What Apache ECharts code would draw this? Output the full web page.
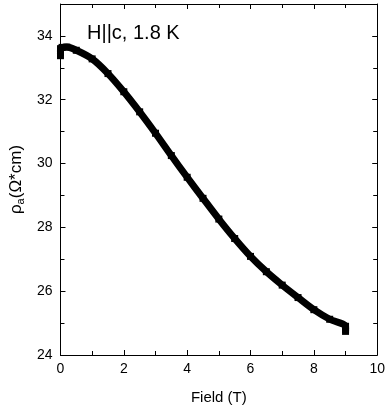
<!DOCTYPE html>
<html>
<head>
<meta charset="utf-8">
<script src="https://cdn.jsdelivr.net/npm/echarts@6/dist/echarts.min.js"></script>
<style>
html,body{margin:0;padding:0;background:#fff;}
#c{width:388px;height:412px;}
</style>
</head>
<body>
<div id="c"></div>
<script>
var fieldT = [0, 0, 0, 0.05, 0.2, 0.5, 1.0, 1.5, 2.0, 2.5, 3.0, 3.5, 4.0, 4.5, 5.0, 5.5, 6.0, 6.5, 7.0, 7.5, 8.0, 8.5, 9.0, 9.0, 9.0];
var rhoA = [33.38, 33.5, 33.6, 33.64, 33.65, 33.55, 33.28, 32.82, 32.25, 31.62, 30.95, 30.25, 29.57, 28.91, 28.26, 27.65, 27.09, 26.61, 26.19, 25.8, 25.42, 25.12, 24.9, 24.8, 24.74];
var xTicks = [0, 2, 4, 6, 8, 10];
var yTicks = [24, 26, 28, 30, 32, 34];
var titleText = 'H||c, 1.8 K';
var xName = 'Field (T)';

var FONT = '"Liberation Sans", Arial, sans-serif';
var pts = fieldT.map(function (f, i) { return [f, rhoA[i]]; });

var baseAxis = {
  axisLine: { show: true, onZero: false, lineStyle: { color: '#000', width: 1 } },
  axisTick: { show: true, inside: true, length: 5, lineStyle: { color: '#000' } },
  minorTick: { show: true, splitNumber: 2, length: 4, lineStyle: { color: '#000' } },
  splitLine: { show: false },
  minorSplitLine: { show: false }
};
function ax(o) { return Object.assign({}, JSON.parse(JSON.stringify(baseAxis)), o); }

var chart = echarts.init(document.getElementById('c'), null, { renderer: 'canvas' });
chart.setOption({
  animation: false,
  backgroundColor: '#fff',
  grid: { left: 45, right: 8, top: 4, bottom: 57 },
  title: {
    text: titleText, left: 87, top: 23, padding: 0,
    textStyle: { fontFamily: FONT, fontSize: 20, fontWeight: 'normal', color: '#000' }
  },
  xAxis: [
    ax({
      type: 'value', min: 0, max: 10, interval: 2, position: 'bottom',
      name: xName, nameLocation: 'middle', nameGap: 35,
      nameTextStyle: { fontFamily: FONT, fontSize: 15, color: '#000' },
      axisLabel: { show: true, margin: 7, color: '#000', fontFamily: FONT, fontSize: 14,
        formatter: function (v) { return xTicks.indexOf(v) >= 0 ? String(v) : ''; } }
    }),
    ax({ type: 'value', min: 0, max: 10, interval: 2, position: 'top', axisLabel: { show: false } })
  ],
  yAxis: [
    ax({
      type: 'value', min: 24, max: 35, interval: 2, position: 'left',
      name: '{r|ρ}{s|a}{r|(Ω*cm)}', nameLocation: 'middle', nameGap: 25, nameRotate: 90,
      nameTextStyle: {
        rich: {
          r: { fontFamily: FONT, fontSize: 17, color: '#000' },
          s: { fontFamily: FONT, fontSize: 11, color: '#000', verticalAlign: 'bottom', padding: [8, 0, 0, 0] }
        }
      },
      axisLabel: { show: true, margin: 8, color: '#000', fontFamily: FONT, fontSize: 14, showMaxLabel: false,
        formatter: function (v) { return yTicks.indexOf(v) >= 0 ? String(v) : ''; } }
    }),
    ax({ type: 'value', min: 24, max: 35, interval: 2, position: 'right', axisLabel: { show: false } })
  ],
  series: [{
    type: 'line',
    data: pts,
    xAxisIndex: 0, yAxisIndex: 0,
    smooth: 0.3,
    showSymbol: true,
    symbol: 'rect',
    symbolSize: 7,
    itemStyle: { color: '#000' },
    lineStyle: { color: '#000', width: 7 }
  }]
});
</script>
</body>
</html>
